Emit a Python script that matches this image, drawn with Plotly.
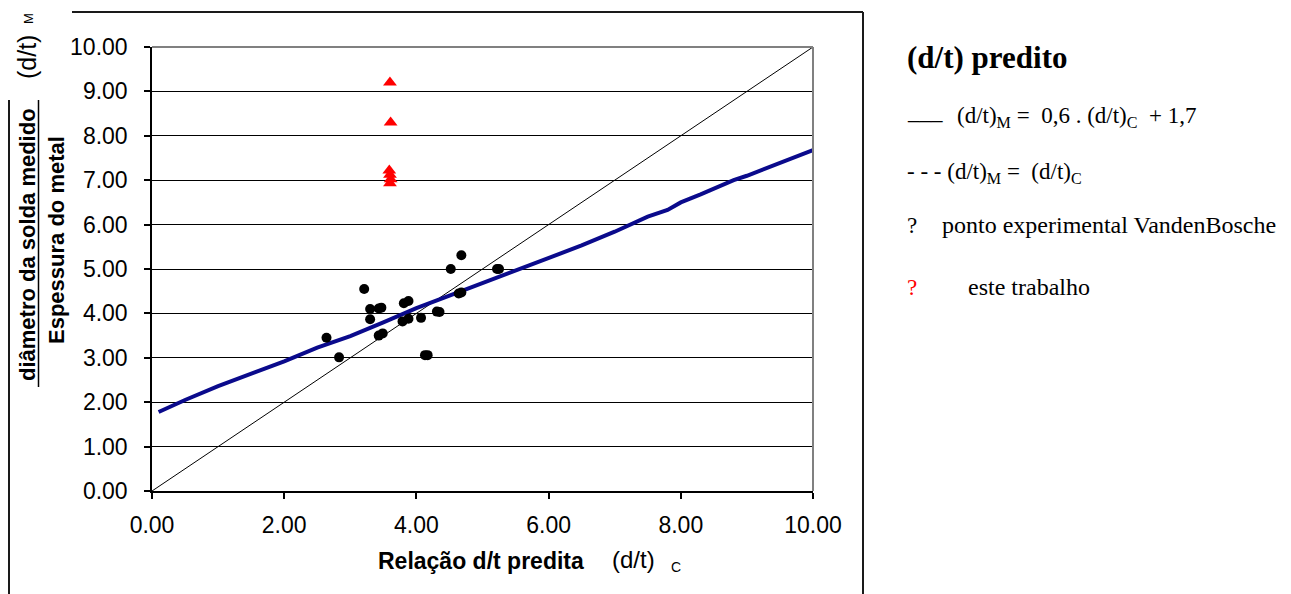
import plotly.graph_objects as go

# ---------------- data ----------------
# VandenBosche experimental points (predicted d/t, measured d/t)
vb_x = [2.64, 2.83, 3.21, 3.30, 3.30, 3.43, 3.47, 3.43, 3.49, 3.81, 3.88, 3.79, 3.88,
        4.07, 4.31, 4.35, 4.13, 4.17, 4.52, 4.68, 4.64, 4.68, 5.22, 5.25]
vb_y = [3.45, 3.01, 4.55, 4.10, 3.87, 4.11, 4.13, 3.50, 3.55, 4.23, 4.28, 3.82, 3.88,
        3.90, 4.04, 4.03, 3.06, 3.06, 5.00, 5.31, 4.45, 4.47, 5.00, 5.00]

# este trabalho (red triangles)
tw_x = [3.60, 3.61, 3.59, 3.60, 3.61, 3.60]
tw_y = [9.20, 8.30, 7.22, 7.12, 7.02, 6.93]

# fitted curve (d/t)M = 0,6 (d/t)C + 1,7 as drawn
fit_x = [0.1, 0.5, 1.0, 1.5, 2.0, 2.5, 3.0, 3.5, 4.0, 4.5, 5.0, 5.5, 6.0, 6.5, 7.0,
         7.5, 7.8, 8.0, 8.3, 8.6, 8.8, 9.0, 9.5, 10.0]
fit_y = [1.78, 2.05, 2.36, 2.63, 2.92, 3.23, 3.49, 3.80, 4.12, 4.40, 4.68, 4.98, 5.25,
         5.53, 5.84, 6.18, 6.33, 6.50, 6.68, 6.88, 7.00, 7.10, 7.40, 7.68]

# reference line (d/t)M = (d/t)C
diag_x = [0, 10]
diag_y = [0, 10]

x_ticks = [0, 2, 4, 6, 8, 10]
y_ticks = [0, 1, 2, 3, 4, 5, 6, 7, 8, 9, 10]

# ---------------- layout geometry ----------------
W, H = 1291, 594
L, R, T, B = 152, 813, 47, 491


def px(x):
    return (x - L) / (R - L)


def py(y):
    return (B - y) / (B - T)


fig = go.Figure()

fig.add_trace(go.Scatter(x=diag_x, y=diag_y, mode="lines",
                         line=dict(color="black", width=1), showlegend=False, hoverinfo="skip"))
fig.add_trace(go.Scatter(x=fit_x, y=fit_y, mode="lines",
                         line=dict(color="#0a0a8c", width=4), showlegend=False))
fig.add_trace(go.Scatter(x=vb_x, y=vb_y, mode="markers",
                         marker=dict(color="black", size=10, symbol="circle"), showlegend=False))
fig.add_trace(go.Scatter(x=tw_x, y=tw_y, mode="markers",
                         marker=dict(color="#ff0000", size=12, symbol="triangle-up"), showlegend=False))

axis_font = dict(family="Liberation Sans, Arial", size=23, color="black")

fig.update_xaxes(range=[0, 10], tickvals=x_ticks, tickformat=".2f", showgrid=False,
                 zeroline=False, showline=True, linecolor="black", linewidth=1.5,
                 ticks="outside", ticklen=6, tickcolor="black", tickwidth=1.5,
                 tickfont=axis_font, ticklabelstandoff=7)
fig.update_yaxes(range=[0, 10], tickvals=y_ticks, tickformat=".2f", showgrid=True,
                 gridcolor="black", gridwidth=1, zeroline=False, showline=True,
                 linecolor="black", linewidth=1.5, ticks="outside", ticklen=6,
                 tickcolor="black", tickwidth=1.5, tickfont=axis_font, ticklabelstandoff=12)

shapes = [
    # plot-area top and right borders (gray)
    dict(type="line", xref="paper", yref="paper", x0=0, x1=1, y0=1, y1=1,
         line=dict(color="#808080", width=2)),
    dict(type="line", xref="paper", yref="paper", x0=1, x1=1, y0=0, y1=1,
         line=dict(color="#808080", width=2)),
    # outer frame
    dict(type="line", xref="paper", yref="paper", x0=px(9), x1=px(9), y0=py(100), y1=py(594),
         line=dict(color="#1a1a1a", width=2)),
    dict(type="line", xref="paper", yref="paper", x0=px(72), x1=px(863), y0=py(12), y1=py(12),
         line=dict(color="#1a1a1a", width=2)),
    dict(type="line", xref="paper", yref="paper", x0=px(863), x1=px(863), y0=py(12), y1=py(594),
         line=dict(color="#1a1a1a", width=2)),
    # fraction bar under "diâmetro da solda medido"
    dict(type="line", xref="paper", yref="paper", x0=px(38.5), x1=px(38.5), y0=py(100), y1=py(387),
         line=dict(color="black", width=1.5)),
]

sans = "Liberation Sans, Arial"
serif = "Liberation Serif, Times New Roman"


def ann(text, x, y, size, family, xanchor="center", yanchor="middle", angle=0, color="black"):
    return dict(text=text, x=px(x), y=py(y), xref="paper", yref="paper", showarrow=False,
                xanchor=xanchor, yanchor=yanchor, textangle=angle,
                font=dict(family=family, size=size, color=color))


annotations = [
    # y-axis title
    ann("<b>diâmetro da solda medido</b>", 27, 245, 22, sans, angle=-90),
    ann("(d/t)", 27, 57, 25, sans, angle=-90),
    ann("M", 29, 19, 13, sans, angle=-90),
    ann("<b>Espessura do metal</b>", 56, 240, 22, sans, angle=-90),
    # x-axis title
    ann("<b>Relação d/t predita</b>", 481, 561, 23, sans),
    ann("(d/t)", 633, 559, 24, sans),
    ann("C", 676, 567, 14, sans),
    # legend panel
    ann("<b>(d/t) predito</b>", 905, 58, 31, serif, xanchor="left"),
    ann("___", 905, 112, 23, serif, xanchor="left"),
    ann("(d/t)<sub>M</sub> =\u00a0 0,6 . (d/t)<sub>C</sub>\u00a0 + 1,7", 955, 117, 23, serif, xanchor="left"),
    ann("- - - (d/t)<sub>M</sub> =\u00a0 (d/t)<sub>C</sub>", 905, 173, 23, serif, xanchor="left"),
    ann("?", 905, 225, 23, serif, xanchor="left"),
    ann("ponto experimental VandenBosche", 940, 225, 24, serif, xanchor="left"),
    ann("?", 905, 287, 23, serif, xanchor="left", color="#ff0000"),
    ann("este trabalho", 966, 287, 24, serif, xanchor="left"),
]

fig.update_layout(
    width=W, height=H,
    margin=dict(l=L, r=W - R, t=T, b=H - B, pad=0),
    paper_bgcolor="white", plot_bgcolor="white",
    shapes=shapes, annotations=annotations,
    showlegend=False,
)

fig.write_html("out.html", config={"displayModeBar": False, "responsive": False})
